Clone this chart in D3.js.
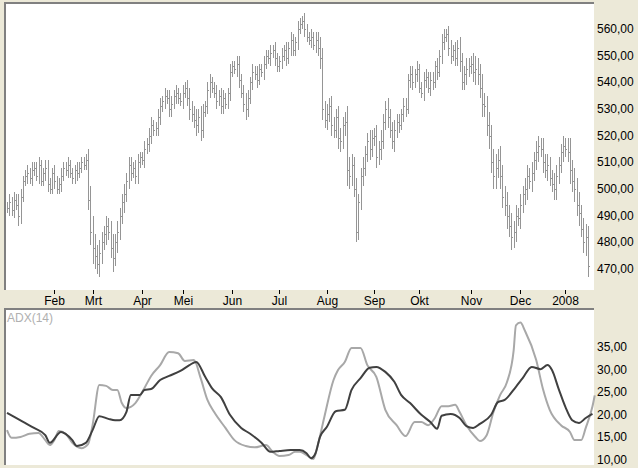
<!DOCTYPE html>
<html><head><meta charset="utf-8">
<script src="https://cdn.jsdelivr.net/npm/d3@7"></script>
<style>body{margin:0;background:#ece9d8;}svg{display:block;font-family:"Liberation Sans",Arial,sans-serif;}</style>
</head><body><svg id="c" width="638" height="468"></svg>
<script>
const months=[{l:"Feb",i:21},{l:"Mrt",i:38},{l:"Apr",i:60},{l:"Mei",i:78},{l:"Jun",i:100},{l:"Jul",i:121},{l:"Aug",i:142},{l:"Sep",i:163},{l:"Okt",i:183},{l:"Nov",i:206},{l:"Dec",i:228},{l:"2008",i:248}];
const closes=[493,495,492,496,494,490,497,503,505,506,504,507,508,505,509,503,506,508,502,500,506,
503,500,502,505,508,507,509,506,504,507,506,508,510,509,511,496,484,478,475,472,476,480,483,486,484,478,474,480,484,
490,495,498,503,509,506,508,505,510,512,511,515,517,520,524,522,523,527,531,533,535,534,530,532,535,536,534,533,536,538,
534,530,528,526,524,527,522,529,531,537,540,538,536,533,535,531,534,532,536,544,546,545,547,541,536,532,530,534,540,544,
543,541,545,544,547,550,549,551,552,549,546,548,550,552,549,553,556,552,555,560,562,563,560,557,556,557,554,556,553,549,
530,526,528,531,524,522,527,519,518,524,525,507,505,509,500,484,495,505,508,513,518,515,519,520,512,515,518,525,530,527,
522,518,522,525,524,528,531,530,541,543,540,543,545,538,536,541,542,538,541,540,546,544,550,555,557,558,553,550,552,549,
553,548,540,543,545,546,547,544,545,543,538,532,531,524,520,510,505,508,511,505,497,494,490,486,482,484,490,489,494,498,
500,505,503,506,511,514,516,515,510,507,509,504,502,500,505,509,514,516,515,514,507,503,500,494,491,485,480,482,471];
const spread=[2,3,2,3,2,4,3,2,2,3,2,3,2,2,3,2,2,3,3,2,2,3,2,2,3,2,2,3,2,2,2,3,2,2,2,2,4,5,6,5,4,5,4,3,4,3,4,5,3,4,
3,3,4,3,3,3,2,3,3,2,2,3,2,3,3,2,2,3,3,2,3,2,3,3,2,3,2,2,3,2,3,4,3,3,4,3,4,3,2,3,3,2,2,3,2,3,3,2,2,3,2,2,3,3,2,3,4,3,
2,3,2,3,2,2,3,2,2,3,2,3,2,2,3,2,3,2,3,2,2,3,2,2,3,2,2,3,2,3,3,4,4,3,4,3,4,3,3,4,4,3,4,6,5,4,3,4,3,3,4,3,3,4,3,3,
4,3,4,3,3,4,3,3,4,3,3,2,3,3,2,3,3,2,3,2,2,3,3,2,3,3,2,3,2,3,3,2,3,3,2,3,3,4,3,3,4,3,3,4,5,4,4,5,4,4,5,4,5,5,4,
5,4,4,5,4,5,4,4,3,4,3,4,4,3,4,3,4,4,3,4,3,4,3,3,4,4,3,3,4,3,4,5,4,5,4,5,3,4,5,4,5,3,4,5,4,6,5];
const adxIdx=[0,4,8,12,17,19,24,26,29,31,35,38,41,45,48,50,53,55,59,61,64,68,72,77,81,84,88,91,95,99,104,108,113,117,121,126,130,133,135,137,139,142,146,150,153,157,161,164,168,172,175,179,184,188,191,193,197,201,204,207,210,215,218,221,226,229,233,237,240,242,245,248,251,254,257,260];
const adxVal=[20.4,19.3,18.2,17.1,15.5,13.8,16.2,15.8,14.4,13.1,13.8,16.6,19.7,19.1,18.8,18.8,20.6,24.4,24.4,25.5,25.7,27.7,28.6,29.7,31.0,31.7,28.4,25.9,23.9,20.0,17.1,15.8,13.8,11.8,12.0,12.2,12.2,11.5,10.4,11.5,15.1,17.3,20.8,21.1,25.5,28.1,30.4,30.6,29.5,27.3,24.4,22.6,20.0,18.4,16.9,19.8,20.2,19.3,17.5,17.1,18.0,20.0,22.8,23.3,26.2,28.1,30.6,30.1,31.0,29.9,25.7,21.7,18.8,18.2,19.3,20.2];
const dxIdx=[0,2,6,10,14,17,19,21,23,26,29,33,36,38,41,44,47,49,51,53,57,61,64,68,72,76,79,83,86,89,92,97,101,106,110,115,118,121,125,128,130,133,136,138,141,145,147,150,153,157,160,164,168,173,177,181,184,187,190,193,196,199,201,204,208,210,213,216,219,222,225,226,228,230,235,238,241,246,250,252,255,257,260,261];
const dxVal=[16.6,14.9,15.1,15.8,16.0,14.4,13.3,14.4,16.4,15.8,13.8,12.6,13.5,17.7,26.6,26.4,25.5,25.5,22.6,21.5,22.6,25.9,28.6,31.0,33.9,33.6,31.9,32.1,28.1,23.3,20.6,17.1,14.4,13.1,12.8,13.3,11.8,10.9,11.1,11.8,11.8,11.1,10.2,13.3,19.7,27.7,29.9,31.7,34.8,34.8,31.0,28.4,21.1,17.7,15.3,18.4,18.4,17.7,19.3,21.9,21.9,22.2,20.6,17.7,15.1,14.2,15.5,20.6,24.4,27.2,34.3,39.8,40.4,38.6,32.1,25.7,21.1,17.7,16.2,14.4,14.4,17.1,21.9,24.3];
const priceTicks=[470,480,490,500,510,520,530,540,550,560];
const adxTicks=[10,15,20,25,30,35];

const svg=d3.select("#c");
const fmt=v=>d3.format(".2f")(v).replace(".",",");
const x=d3.scaleLinear().domain([0,258]).range([7,588]);
const yP=d3.scaleLinear().domain([470,560]).range([269,29]);
const yA=d3.scaleLinear().domain([10,35]).range([460,347]);
svg.append("rect").attr("x",5).attr("y",3).attr("width",589).attr("height",287).attr("fill","#fff");
svg.append("rect").attr("x",5).attr("y",309).attr("width",589).attr("height",156).attr("fill","#fff");
[[3],[309]].forEach(([yy])=>svg.append("line").attr("x1",4).attr("x2",594).attr("y1",yy).attr("y2",yy).attr("stroke","#808080").attr("stroke-width",2));
[[3,290],[309,465]].forEach(([a,b])=>svg.append("line").attr("x1",5).attr("x2",5).attr("y1",a).attr("y2",b).attr("stroke","#808080").attr("stroke-width",2));
const bars=closes.map((c,i)=>{const o=i?closes[i-1]:c;const s=spread[i]??3;return{i,o,c,h:Math.max(o,c)+s,l:Math.min(o,c)-s};});
const g=svg.append("g").attr("stroke","#959595").attr("stroke-width",1).attr("shape-rendering","crispEdges");
bars.forEach(b=>{const xx=Math.round(x(b.i))+0.5;
 g.append("line").attr("x1",xx).attr("x2",xx).attr("y1",yP(b.h)).attr("y2",yP(b.l));
 g.append("line").attr("x1",xx-1).attr("x2",xx).attr("y1",Math.round(yP(b.o))+0.5).attr("y2",Math.round(yP(b.o))+0.5);
 g.append("line").attr("x1",xx).attr("x2",xx+1).attr("y1",Math.round(yP(b.c))+0.5).attr("y2",Math.round(yP(b.c))+0.5);
});
const ax=svg.append("g").attr("font-size",12).attr("fill","#000");
priceTicks.forEach(t=>ax.append("text").attr("x",597).attr("y",yP(t)+4).text(fmt(t)));
adxTicks.forEach(t=>ax.append("text").attr("x",597).attr("y",yA(t)+4).text(fmt(t)));
months.forEach(m=>{const xx=Math.round(x(m.i))+0.5;
 svg.append("line").attr("x1",xx).attr("x2",xx).attr("y1",290).attr("y2",294).attr("stroke","#000");
 ax.append("text").attr("x",xx).attr("y",305).attr("text-anchor","middle").text(m.l);});
const ln=d3.line().curve(d3.curveMonotoneX);
svg.append("path").attr("d",ln(dxIdx.map((d,k)=>[x(d),yA(dxVal[k])]))).attr("fill","none").attr("stroke","#a8a8a8").attr("stroke-width",2);
svg.append("path").attr("d",ln(adxIdx.map((d,k)=>[x(d),yA(adxVal[k])]))).attr("fill","none").attr("stroke","#404040").attr("stroke-width",2);
svg.append("text").attr("x",7).attr("y",322).attr("font-size",12).attr("fill","#b0b0b0").text("ADX(14)");
</script></body></html>
